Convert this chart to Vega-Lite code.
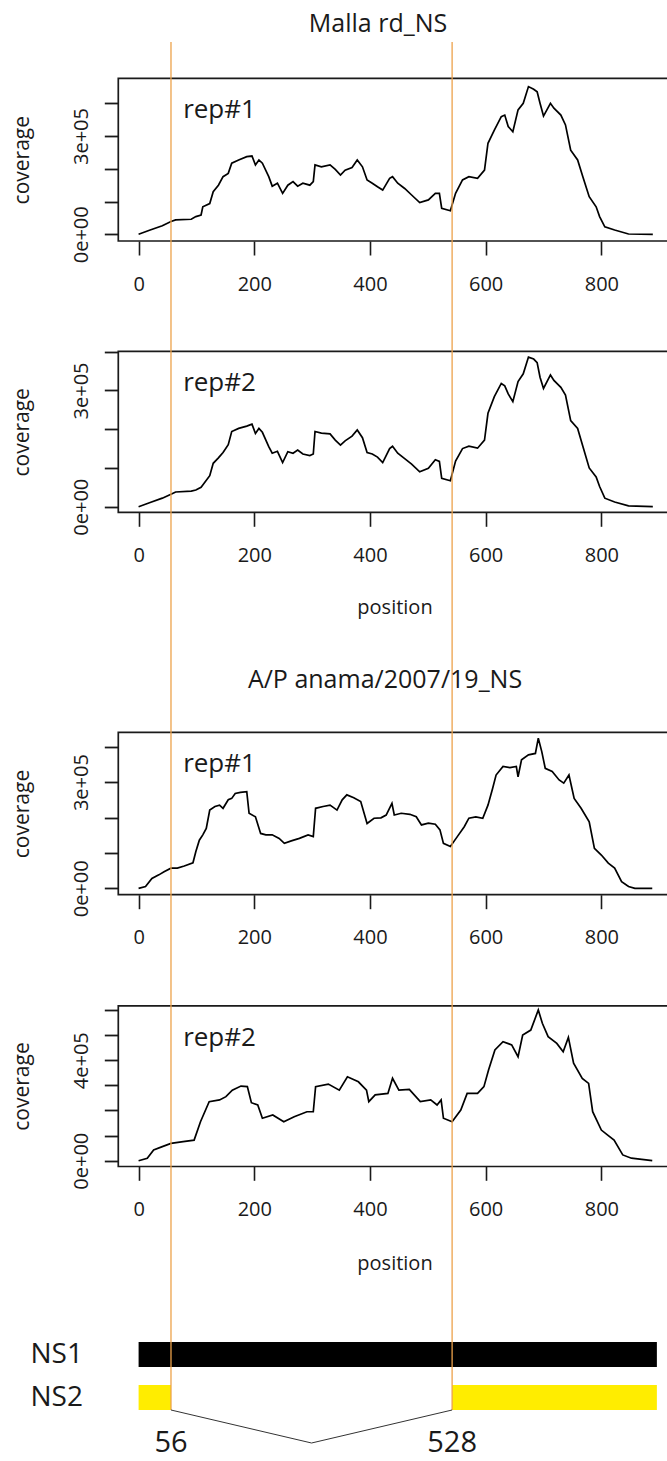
{
"$schema": "https://vega.github.io/schema/vega-lite/v6.json",
"padding": {"left": 0, "right": 0, "top": 12, "bottom": 0},
"autosize": {"type": "pad"},
"title": {"text": "Malla rd_NS", "anchor": "middle", "dx": 44.5, "fontSize": 25, "font": "Open Sans", "fontWeight": "normal", "color": "#1a1a1a", "offset": 4},
"spacing": 0,
"bounds": "flush",
"config": {"view": {"stroke": null}, "font": "Open Sans"},
"datasets": {
"m1": [{"pos":0,"cov":0},{"pos":20,"cov":13000},{"pos":41,"cov":26000},{"pos":56,"cov":39000},{"pos":64,"cov":44000},{"pos":91,"cov":46000},{"pos":99,"cov":54000},{"pos":108,"cov":59000},{"pos":111,"cov":84000},{"pos":123,"cov":94000},{"pos":129,"cov":130000},{"pos":138,"cov":150000},{"pos":146,"cov":176000},{"pos":155,"cov":186000},{"pos":161,"cov":217000},{"pos":173,"cov":227000},{"pos":187,"cov":237000},{"pos":196,"cov":239000},{"pos":202,"cov":212000},{"pos":208,"cov":227000},{"pos":214,"cov":217000},{"pos":225,"cov":176000},{"pos":231,"cov":147000},{"pos":240,"cov":156000},{"pos":249,"cov":125000},{"pos":258,"cov":150000},{"pos":267,"cov":161000},{"pos":275,"cov":147000},{"pos":284,"cov":156000},{"pos":296,"cov":150000},{"pos":302,"cov":161000},{"pos":305,"cov":212000},{"pos":316,"cov":206000},{"pos":331,"cov":212000},{"pos":340,"cov":198000},{"pos":349,"cov":181000},{"pos":357,"cov":196000},{"pos":369,"cov":204000},{"pos":378,"cov":227000},{"pos":387,"cov":206000},{"pos":395,"cov":166000},{"pos":404,"cov":156000},{"pos":413,"cov":145000},{"pos":422,"cov":135000},{"pos":434,"cov":171000},{"pos":439,"cov":176000},{"pos":448,"cov":156000},{"pos":460,"cov":140000},{"pos":472,"cov":120000},{"pos":486,"cov":97000},{"pos":501,"cov":105000},{"pos":513,"cov":125000},{"pos":520,"cov":125000},{"pos":524,"cov":79000},{"pos":539,"cov":72000},{"pos":548,"cov":125000},{"pos":560,"cov":166000},{"pos":571,"cov":176000},{"pos":586,"cov":171000},{"pos":598,"cov":196000},{"pos":604,"cov":278000},{"pos":615,"cov":318000},{"pos":627,"cov":359000},{"pos":633,"cov":364000},{"pos":639,"cov":329000},{"pos":647,"cov":313000},{"pos":656,"cov":380000},{"pos":665,"cov":400000},{"pos":674,"cov":451000},{"pos":683,"cov":443000},{"pos":689,"cov":435000},{"pos":694,"cov":400000},{"pos":700,"cov":361000},{"pos":712,"cov":400000},{"pos":718,"cov":385000},{"pos":730,"cov":364000},{"pos":738,"cov":334000},{"pos":747,"cov":257000},{"pos":759,"cov":227000},{"pos":768,"cov":176000},{"pos":779,"cov":115000},{"pos":791,"cov":84000},{"pos":797,"cov":54000},{"pos":806,"cov":23000},{"pos":823,"cov":13000},{"pos":847,"cov":1000},{"pos":889,"cov":0}],
"m2": [{"pos":0,"cov":0},{"pos":20,"cov":11000},{"pos":41,"cov":22000},{"pos":56,"cov":32000},{"pos":64,"cov":38000},{"pos":91,"cov":40000},{"pos":99,"cov":43000},{"pos":108,"cov":50000},{"pos":111,"cov":56000},{"pos":123,"cov":80000},{"pos":129,"cov":112000},{"pos":138,"cov":126000},{"pos":146,"cov":140000},{"pos":155,"cov":160000},{"pos":161,"cov":194000},{"pos":173,"cov":202000},{"pos":187,"cov":208000},{"pos":196,"cov":213000},{"pos":202,"cov":189000},{"pos":208,"cov":202000},{"pos":214,"cov":192000},{"pos":225,"cov":155000},{"pos":231,"cov":138000},{"pos":240,"cov":143000},{"pos":249,"cov":114000},{"pos":258,"cov":142000},{"pos":267,"cov":138000},{"pos":275,"cov":146000},{"pos":284,"cov":136000},{"pos":296,"cov":132000},{"pos":302,"cov":136000},{"pos":305,"cov":194000},{"pos":316,"cov":190000},{"pos":331,"cov":188000},{"pos":340,"cov":172000},{"pos":349,"cov":159000},{"pos":357,"cov":170000},{"pos":369,"cov":182000},{"pos":378,"cov":198000},{"pos":387,"cov":178000},{"pos":395,"cov":140000},{"pos":404,"cov":136000},{"pos":413,"cov":128000},{"pos":422,"cov":114000},{"pos":434,"cov":150000},{"pos":439,"cov":156000},{"pos":448,"cov":138000},{"pos":460,"cov":124000},{"pos":472,"cov":110000},{"pos":486,"cov":90000},{"pos":501,"cov":99000},{"pos":513,"cov":121000},{"pos":520,"cov":117000},{"pos":524,"cov":73000},{"pos":539,"cov":67000},{"pos":548,"cov":118000},{"pos":560,"cov":150000},{"pos":571,"cov":156000},{"pos":586,"cov":151000},{"pos":598,"cov":172000},{"pos":604,"cov":241000},{"pos":615,"cov":284000},{"pos":627,"cov":318000},{"pos":633,"cov":312000},{"pos":639,"cov":291000},{"pos":647,"cov":271000},{"pos":656,"cov":323000},{"pos":665,"cov":343000},{"pos":674,"cov":386000},{"pos":683,"cov":381000},{"pos":689,"cov":372000},{"pos":694,"cov":334000},{"pos":700,"cov":305000},{"pos":712,"cov":340000},{"pos":718,"cov":326000},{"pos":730,"cov":308000},{"pos":738,"cov":288000},{"pos":747,"cov":222000},{"pos":759,"cov":202000},{"pos":768,"cov":156000},{"pos":779,"cov":100000},{"pos":791,"cov":77000},{"pos":797,"cov":52000},{"pos":806,"cov":22000},{"pos":823,"cov":12000},{"pos":847,"cov":2000},{"pos":889,"cov":0}],
"p1": [{"pos":0,"cov":0},{"pos":12,"cov":5000},{"pos":23,"cov":28000},{"pos":35,"cov":38000},{"pos":44,"cov":47000},{"pos":56,"cov":57000},{"pos":67,"cov":57000},{"pos":79,"cov":63000},{"pos":94,"cov":72000},{"pos":99,"cov":104000},{"pos":105,"cov":136000},{"pos":111,"cov":151000},{"pos":117,"cov":169000},{"pos":123,"cov":221000},{"pos":132,"cov":231000},{"pos":140,"cov":235000},{"pos":146,"cov":226000},{"pos":155,"cov":250000},{"pos":161,"cov":254000},{"pos":167,"cov":268000},{"pos":176,"cov":271000},{"pos":187,"cov":273000},{"pos":191,"cov":212000},{"pos":202,"cov":202000},{"pos":211,"cov":155000},{"pos":220,"cov":151000},{"pos":231,"cov":151000},{"pos":243,"cov":141000},{"pos":252,"cov":127000},{"pos":264,"cov":134000},{"pos":278,"cov":141000},{"pos":293,"cov":151000},{"pos":302,"cov":146000},{"pos":306,"cov":226000},{"pos":319,"cov":231000},{"pos":331,"cov":235000},{"pos":343,"cov":221000},{"pos":352,"cov":250000},{"pos":360,"cov":264000},{"pos":372,"cov":256000},{"pos":384,"cov":245000},{"pos":395,"cov":183000},{"pos":407,"cov":198000},{"pos":419,"cov":199000},{"pos":428,"cov":207000},{"pos":438,"cov":240000},{"pos":442,"cov":207000},{"pos":454,"cov":212000},{"pos":469,"cov":209000},{"pos":480,"cov":202000},{"pos":489,"cov":179000},{"pos":501,"cov":184000},{"pos":513,"cov":181000},{"pos":521,"cov":165000},{"pos":527,"cov":127000},{"pos":539,"cov":118000},{"pos":551,"cov":146000},{"pos":563,"cov":174000},{"pos":571,"cov":198000},{"pos":583,"cov":202000},{"pos":595,"cov":198000},{"pos":604,"cov":235000},{"pos":612,"cov":282000},{"pos":618,"cov":320000},{"pos":630,"cov":344000},{"pos":642,"cov":341000},{"pos":653,"cov":344000},{"pos":656,"cov":315000},{"pos":662,"cov":363000},{"pos":674,"cov":377000},{"pos":686,"cov":381000},{"pos":691,"cov":424000},{"pos":697,"cov":386000},{"pos":703,"cov":339000},{"pos":715,"cov":330000},{"pos":727,"cov":306000},{"pos":735,"cov":297000},{"pos":744,"cov":320000},{"pos":753,"cov":254000},{"pos":765,"cov":226000},{"pos":779,"cov":188000},{"pos":788,"cov":113000},{"pos":800,"cov":94000},{"pos":812,"cov":71000},{"pos":823,"cov":57000},{"pos":835,"cov":19000},{"pos":847,"cov":5000},{"pos":858,"cov":0},{"pos":888,"cov":0}],
"p2": [{"pos":0,"cov":0},{"pos":15,"cov":10000},{"pos":26,"cov":43000},{"pos":41,"cov":56000},{"pos":56,"cov":69000},{"pos":77,"cov":76000},{"pos":96,"cov":82000},{"pos":107,"cov":155000},{"pos":122,"cov":235000},{"pos":140,"cov":242000},{"pos":151,"cov":255000},{"pos":162,"cov":281000},{"pos":177,"cov":297000},{"pos":188,"cov":295000},{"pos":195,"cov":231000},{"pos":206,"cov":222000},{"pos":214,"cov":169000},{"pos":232,"cov":182000},{"pos":251,"cov":155000},{"pos":269,"cov":175000},{"pos":291,"cov":195000},{"pos":302,"cov":195000},{"pos":306,"cov":295000},{"pos":328,"cov":305000},{"pos":347,"cov":281000},{"pos":361,"cov":334000},{"pos":380,"cov":314000},{"pos":394,"cov":281000},{"pos":398,"cov":235000},{"pos":409,"cov":262000},{"pos":431,"cov":268000},{"pos":439,"cov":328000},{"pos":450,"cov":281000},{"pos":468,"cov":284000},{"pos":487,"cov":235000},{"pos":505,"cov":242000},{"pos":516,"cov":222000},{"pos":523,"cov":242000},{"pos":527,"cov":169000},{"pos":542,"cov":155000},{"pos":557,"cov":202000},{"pos":568,"cov":268000},{"pos":586,"cov":268000},{"pos":597,"cov":295000},{"pos":605,"cov":361000},{"pos":616,"cov":441000},{"pos":630,"cov":474000},{"pos":645,"cov":461000},{"pos":656,"cov":414000},{"pos":664,"cov":500000},{"pos":678,"cov":520000},{"pos":691,"cov":600000},{"pos":698,"cov":547000},{"pos":708,"cov":494000},{"pos":723,"cov":467000},{"pos":734,"cov":434000},{"pos":743,"cov":491000},{"pos":752,"cov":388000},{"pos":767,"cov":328000},{"pos":778,"cov":308000},{"pos":785,"cov":195000},{"pos":800,"cov":122000},{"pos":811,"cov":102000},{"pos":822,"cov":82000},{"pos":837,"cov":23000},{"pos":852,"cov":10000},{"pos":888,"cov":0}],
"splice": [{"pos":56},{"pos":542}],
"genes": [{"gene":"NS1","start":0,"end":896},{"gene":"NS2","start":0,"end":56},{"gene":"NS2","start":542,"end":896}],
"junction": [{"pos":56,"drop":0},{"pos":299,"drop":1},{"pos":542,"drop":0}],
"sitelabels": [{"pos":56,"label":"56"},{"pos":542,"label":"528"}]
},
"vconcat": [
{
"width": 667, "height": 258,
"layer": [
{"data": {"values": [{}]}, "mark": {"type": "rect", "filled": false, "stroke": "#1a1a1a", "strokeWidth": 1.7, "clip": true},
 "encoding": {
  "x": {"datum": -35.1, "type": "quantitative", "scale": {"domain": [-239.6, 913.5], "nice": false, "zero": false}, "axis": {"values": [0,200,400,600,800], "format": "d", "offset": -59, "domain": false, "grid": false, "tickSize": 14, "tickWidth": 1.6, "tickColor": "#1a1a1a", "labelFont": "Open Sans", "labelFontSize": 20, "labelColor": "#1a1a1a", "labelPadding": 19, "labelFlush": false, "labelOverlap": false, "title": null}},
  "x2": {"datum": 935},
  "y": {"datum": -20500, "type": "quantitative", "scale": {"domain": [-200600, 587200], "nice": false, "zero": false}, "axis": {"orient": "left", "values": [0,100000,200000,300000,400000], "labelExpr": "datum.value === 0 ? '0e+00' : (datum.value === 300000 ? '3e+05' : '')", "offset": -118.3, "domain": false, "grid": false, "tickSize": 14, "tickWidth": 1.8, "tickColor": "#1a1a1a", "labelAngle": -90, "labelAlign": "center", "labelBaseline": "bottom", "labelPadding": 13, "labelFontSize": 20, "labelFont": "Open Sans", "labelColor": "#1a1a1a", "labelOverlap": false, "labelBound": false, "labelFlush": false, "title": "coverage", "titleAngle": -90, "titleAlign": "center", "titleBaseline": "middle", "titleX": -96.3, "titleY": 117.7, "titleFontSize": 21, "titleFont": "Open Sans", "titleFontWeight": "normal", "titleColor": "#1a1a1a"}},
  "y2": {"datum": 476300}}},
{"data": {"name": "m1"}, "mark": {"type": "line", "color": "#000000", "strokeWidth": 1.7},
 "encoding": {
  "x": {"field": "pos", "type": "quantitative", "scale": {"domain": [-239.6, 913.5], "nice": false, "zero": false}},
  "y": {"field": "cov", "type": "quantitative", "scale": {"domain": [-200600, 587200], "nice": false, "zero": false}}}},
{"data": {"name": "splice"}, "mark": {"type": "rule", "color": "#EDA24A", "strokeWidth": 1.3},
 "encoding": {"x": {"field": "pos", "type": "quantitative", "scale": {"domain": [-239.6, 913.5], "nice": false, "zero": false}}}},
{"data": {"values": [{"label": "rep#1"}]}, "mark": {"type": "text", "align": "left", "baseline": "alphabetic", "fontSize": 26, "font": "Open Sans", "color": "#1a1a1a"},
 "encoding": {"x": {"datum": 77, "type": "quantitative"}, "y": {"datum": 354000, "type": "quantitative"}, "text": {"field": "label"}}}
]
},
{
"width": 667, "height": 340,
"layer": [
{"data": {"values": [{}]}, "mark": {"type": "rect", "filled": false, "stroke": "#1a1a1a", "strokeWidth": 1.7, "clip": true},
 "encoding": {
  "x": {"datum": -35.1, "type": "quantitative", "scale": {"domain": [-239.6, 913.5], "nice": false, "zero": false}, "axis": {"values": [0,200,400,600,800], "format": "d", "offset": -127.7, "domain": false, "grid": false, "tickSize": 14, "tickWidth": 1.6, "tickColor": "#1a1a1a", "labelFont": "Open Sans", "labelFontSize": 20, "labelColor": "#1a1a1a", "labelPadding": 19, "labelFlush": false, "labelOverlap": false, "title": "position", "titleX": 394.5, "titleY": 95, "titleAlign": "center", "titleBaseline": "middle", "titleFont": "Open Sans", "titleFontSize": 20, "titleFontWeight": "normal", "titleColor": "#1a1a1a"}},
  "x2": {"datum": 935},
  "y": {"datum": -14500, "type": "quantitative", "scale": {"domain": [-344000, 533400], "nice": false, "zero": false}, "axis": {"orient": "left", "values": [0,100000,200000,300000,400000], "labelExpr": "datum.value === 0 ? '0e+00' : (datum.value === 300000 ? '3e+05' : '')", "offset": -118.3, "domain": false, "grid": false, "tickSize": 14, "tickWidth": 1.8, "tickColor": "#1a1a1a", "labelAngle": -90, "labelAlign": "center", "labelBaseline": "bottom", "labelPadding": 13, "labelFontSize": 20, "labelFont": "Open Sans", "labelColor": "#1a1a1a", "labelOverlap": false, "labelBound": false, "labelFlush": false, "title": "coverage", "titleAngle": -90, "titleAlign": "center", "titleBaseline": "middle", "titleX": -96.3, "titleY": 131.8, "titleFontSize": 21, "titleFont": "Open Sans", "titleFontWeight": "normal", "titleColor": "#1a1a1a"}},
  "y2": {"datum": 401000}}},
{"data": {"name": "m2"}, "mark": {"type": "line", "color": "#000000", "strokeWidth": 1.7},
 "encoding": {
  "x": {"field": "pos", "type": "quantitative", "scale": {"domain": [-239.6, 913.5], "nice": false, "zero": false}},
  "y": {"field": "cov", "type": "quantitative", "scale": {"domain": [-344000, 533400], "nice": false, "zero": false}}}},
{"data": {"name": "splice"}, "mark": {"type": "rule", "color": "#EDA24A", "strokeWidth": 1.3},
 "encoding": {"x": {"field": "pos", "type": "quantitative", "scale": {"domain": [-239.6, 913.5], "nice": false, "zero": false}}}},
{"data": {"values": [{"label": "rep#2"}]}, "mark": {"type": "text", "align": "left", "baseline": "alphabetic", "fontSize": 26, "font": "Open Sans", "color": "#1a1a1a"},
 "encoding": {"x": {"datum": 77, "type": "quantitative"}, "y": {"datum": 298000, "type": "quantitative"}, "text": {"field": "label"}}}
]
},
{
"width": 667, "height": 320,
"layer": [
{"data": {"values": [{}]}, "mark": {"type": "rect", "filled": false, "stroke": "#1a1a1a", "strokeWidth": 1.7, "clip": true},
 "encoding": {
  "x": {"datum": -35.1, "type": "quantitative", "scale": {"domain": [-239.6, 913.5], "nice": false, "zero": false}, "axis": {"values": [0,200,400,600,800], "format": "d", "offset": -65.3, "domain": false, "grid": false, "tickSize": 14, "tickWidth": 1.6, "tickColor": "#1a1a1a", "labelFont": "Open Sans", "labelFontSize": 20, "labelColor": "#1a1a1a", "labelPadding": 19, "labelFlush": false, "labelOverlap": false, "title": null}},
  "x2": {"datum": 935},
  "y": {"datum": -18100, "type": "quantitative", "scale": {"domain": [-202500, 701400], "nice": false, "zero": false}, "axis": {"orient": "left", "values": [0,100000,200000,300000,400000], "labelExpr": "datum.value === 0 ? '0e+00' : (datum.value === 300000 ? '3e+05' : '')", "offset": -118.3, "domain": false, "grid": false, "tickSize": 14, "tickWidth": 1.8, "tickColor": "#1a1a1a", "labelAngle": -90, "labelAlign": "center", "labelBaseline": "bottom", "labelPadding": 13, "labelFontSize": 20, "labelFont": "Open Sans", "labelColor": "#1a1a1a", "labelOverlap": false, "labelBound": false, "labelFlush": false, "title": "coverage", "titleAngle": -90, "titleAlign": "center", "titleBaseline": "middle", "titleX": -96.3, "titleY": 173.5, "titleFontSize": 21, "titleFont": "Open Sans", "titleFontWeight": "normal", "titleColor": "#1a1a1a"}},
  "y2": {"datum": 440700}}},
{"data": {"name": "p1"}, "mark": {"type": "line", "color": "#000000", "strokeWidth": 1.7},
 "encoding": {
  "x": {"field": "pos", "type": "quantitative", "scale": {"domain": [-239.6, 913.5], "nice": false, "zero": false}},
  "y": {"field": "cov", "type": "quantitative", "scale": {"domain": [-202500, 701400], "nice": false, "zero": false}}}},
{"data": {"name": "splice"}, "mark": {"type": "rule", "color": "#EDA24A", "strokeWidth": 1.3},
 "encoding": {"x": {"field": "pos", "type": "quantitative", "scale": {"domain": [-239.6, 913.5], "nice": false, "zero": false}}}},
{"data": {"values": [{"label": "rep#1"}]}, "mark": {"type": "text", "align": "left", "baseline": "alphabetic", "fontSize": 26, "font": "Open Sans", "color": "#1a1a1a"},
 "encoding": {"x": {"datum": 77, "type": "quantitative"}, "y": {"datum": 327700, "type": "quantitative"}, "text": {"field": "label"}}},
{"data": {"values": [{"label": "A/P anama/2007/19_NS"}]}, "mark": {"type": "text", "align": "center", "baseline": "alphabetic", "fontSize": 25, "font": "Open Sans", "color": "#1a1a1a"},
 "encoding": {"x": {"datum": 426, "type": "quantitative"}, "y": {"datum": 565800, "type": "quantitative"}, "text": {"field": "label"}}}
]
},
{
"width": 667, "height": 340,
"layer": [
{"data": {"values": [{}]}, "mark": {"type": "rect", "filled": false, "stroke": "#1a1a1a", "strokeWidth": 1.7, "clip": true},
 "encoding": {
  "x": {"datum": -35.1, "type": "quantitative", "scale": {"domain": [-239.6, 913.5], "nice": false, "zero": false}, "axis": {"values": [0,200,400,600,800], "format": "d", "offset": -133.7, "domain": false, "grid": false, "tickSize": 14, "tickWidth": 1.6, "tickColor": "#1a1a1a", "labelFont": "Open Sans", "labelFontSize": 20, "labelColor": "#1a1a1a", "labelPadding": 19, "labelFlush": false, "labelOverlap": false, "title": "position", "titleX": 394.5, "titleY": 97.3, "titleAlign": "center", "titleBaseline": "middle", "titleFont": "Open Sans", "titleFontSize": 20, "titleFontWeight": "normal", "titleColor": "#1a1a1a"}},
  "x2": {"datum": 935},
  "y": {"datum": -23000, "type": "quantitative", "scale": {"domain": [-554500, 799000], "nice": false, "zero": false}, "axis": {"orient": "left", "values": [0,100000,200000,300000,400000,500000,600000], "labelExpr": "datum.value === 0 ? '0e+00' : (datum.value === 400000 ? '4e+05' : '')", "offset": -118.3, "domain": false, "grid": false, "tickSize": 14, "tickWidth": 1.8, "tickColor": "#1a1a1a", "labelAngle": -90, "labelAlign": "center", "labelBaseline": "bottom", "labelPadding": 13, "labelFontSize": 20, "labelFont": "Open Sans", "labelColor": "#1a1a1a", "labelOverlap": false, "labelBound": false, "labelFlush": false, "title": "coverage", "titleAngle": -90, "titleAlign": "center", "titleBaseline": "middle", "titleX": -96.3, "titleY": 126, "titleFontSize": 21, "titleFont": "Open Sans", "titleFontWeight": "normal", "titleColor": "#1a1a1a"}},
  "y2": {"datum": 616000}}},
{"data": {"name": "p2"}, "mark": {"type": "line", "color": "#000000", "strokeWidth": 1.7},
 "encoding": {
  "x": {"field": "pos", "type": "quantitative", "scale": {"domain": [-239.6, 913.5], "nice": false, "zero": false}},
  "y": {"field": "cov", "type": "quantitative", "scale": {"domain": [-554500, 799000], "nice": false, "zero": false}}}},
{"data": {"name": "splice"}, "mark": {"type": "rule", "color": "#EDA24A", "strokeWidth": 1.3},
 "encoding": {"x": {"field": "pos", "type": "quantitative", "scale": {"domain": [-239.6, 913.5], "nice": false, "zero": false}}}},
{"data": {"values": [{"label": "rep#2"}]}, "mark": {"type": "text", "align": "left", "baseline": "alphabetic", "fontSize": 26, "font": "Open Sans", "color": "#1a1a1a"},
 "encoding": {"x": {"datum": 77, "type": "quantitative"}, "y": {"datum": 457800, "type": "quantitative"}, "text": {"field": "label"}}}
]
},
{
"width": 667, "height": 110,
"layer": [
{"data": {"name": "genes"}, "mark": {"type": "bar"},
 "encoding": {
  "x": {"field": "start", "type": "quantitative", "scale": {"domain": [-239.6, 913.5], "nice": false, "zero": false}, "axis": null},
  "x2": {"field": "end"},
  "y": {"field": "gene", "type": "nominal", "scale": {"domain": ["NS1", "NS2"], "paddingInner": 0.4186, "paddingOuter": 0.489, "align": 1}, "axis": {"orient": "left", "offset": -40, "domain": false, "ticks": false, "tickSize": 0, "grid": false, "labelAlign": "left", "labelBaseline": "middle", "labelPadding": 10, "labelFontSize": 28, "labelFont": "Open Sans", "labelColor": "#1a1a1a", "title": null}},
  "color": {"field": "gene", "type": "nominal", "scale": {"domain": ["NS1", "NS2"], "range": ["#000000", "#FFED00"]}, "legend": null}}},
{"data": {"name": "splice"}, "mark": {"type": "rule", "color": "#EDA24A", "strokeWidth": 1.3},
 "encoding": {"x": {"field": "pos", "type": "quantitative", "scale": {"domain": [-239.6, 913.5], "nice": false, "zero": false}}}}
]
},
{
"width": 667, "height": 51,
"layer": [
{"data": {"name": "junction"}, "mark": {"type": "line", "color": "#333333", "strokeWidth": 1},
 "encoding": {
  "x": {"field": "pos", "type": "quantitative", "scale": {"domain": [-239.6, 913.5], "nice": false, "zero": false}, "axis": null},
  "y": {"field": "drop", "type": "quantitative", "scale": {"domain": [0, 1.545], "reverse": true, "nice": false, "zero": false}, "axis": null}}},
{"data": {"name": "sitelabels"}, "mark": {"type": "text", "fontSize": 29, "baseline": "middle", "align": "center", "font": "Open Sans", "color": "#1a1a1a"},
 "encoding": {
  "x": {"field": "pos", "type": "quantitative"},
  "y": {"datum": 1, "type": "quantitative"},
  "text": {"field": "label"}}}
]
}
]
}
